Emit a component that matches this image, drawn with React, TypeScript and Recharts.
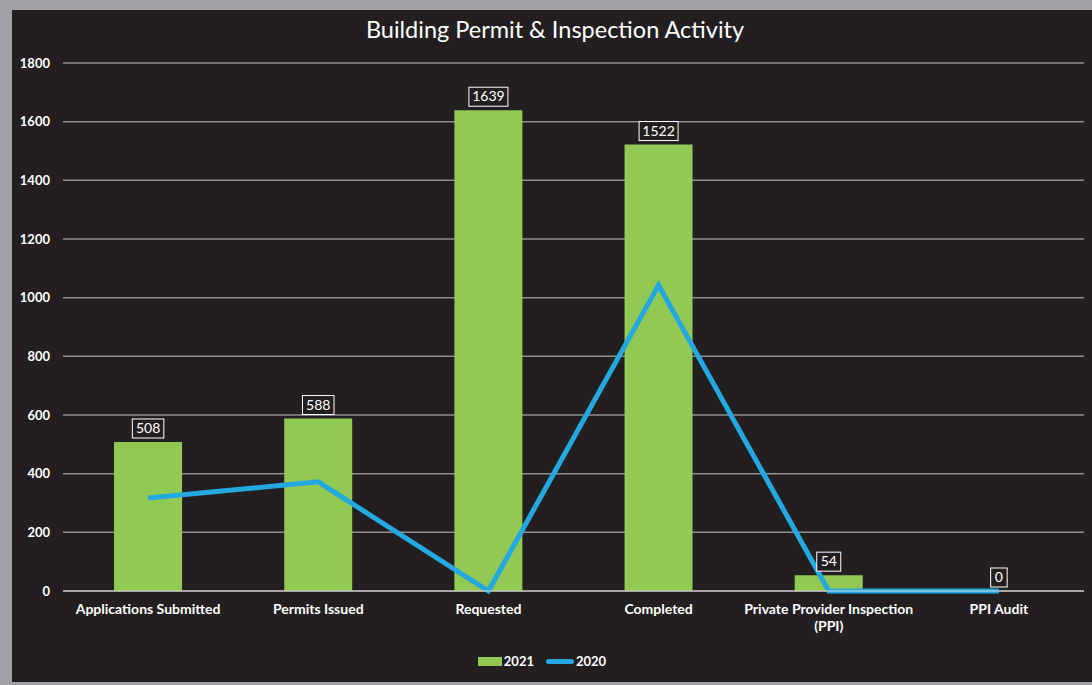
import React from "react";
import { ComposedChart, Bar, Line, XAxis, YAxis, CartesianGrid, Legend, LabelList } from "recharts";

const categories = [
  "Applications Submitted",
  "Permits Issued",
  "Requested",
  "Completed",
  "Private Provider Inspection (PPI)",
  "PPI Audit",
];
const values2021 = [508, 588, 1639, 1522, 54, 0];
const values2020 = [317, 372, 0, 1043, 0, 0];
const yTicks = [0, 200, 400, 600, 800, 1000, 1200, 1400, 1600, 1800];

const data = categories.map((c, i) => ({ name: c, y2021: values2021[i], y2020: values2020[i] }));

const FONT = "Lato, 'Open Sans', sans-serif";
const GREEN = "#92c955";
const BLUE = "#23a8e0";

const XTick = (props: any) => {
  const { x, y, payload } = props;
  const label: string = payload.value;
  const idx = label.indexOf(" (");
  const lines = idx > 0 ? [label.slice(0, idx), label.slice(idx + 1)] : [label];
  return (
    <text x={x} y={y} textAnchor="middle" fill="#ffffff" fontFamily={FONT} fontWeight={700} fontSize={14}>
      {lines.map((l, i) => (
        <tspan key={i} x={x} dy={i === 0 ? 15 : 17}>
          {l}
        </tspan>
      ))}
    </text>
  );
};

const BoxLabel = (props: any) => {
  const { x, y, value } = props;
  const s = String(value);
  const w = s.length * 7.5 + 9;
  const h = 19;
  const cx = x;
  const bottom = y - 4;
  return (
    <g>
      <rect x={cx - w / 2} y={bottom - h} width={w} height={h} fill="#231f20" stroke="#ffffff" strokeWidth={1} />
      <text x={cx} y={bottom - 5} textAnchor="middle" fill="#ffffff" fontFamily={FONT} fontSize={14}>
        {s}
      </text>
    </g>
  );
};

const LegendContent = () => (
  <div style={{ display: "flex", justifyContent: "center", alignItems: "center", fontFamily: FONT, fontWeight: 700, fontSize: 13, color: "#fff", height: 16 }}>
    <span style={{ display: "inline-block", width: 24, height: 9, background: GREEN, marginRight: 2 }} />
    <span style={{ marginRight: 12 }}>2021</span>
    <span style={{ display: "inline-block", width: 28, height: 5, background: BLUE, borderRadius: 3, marginRight: 2 }} />
    <span>2020</span>
  </div>
);

export default function App() {
  return (
    <div style={{ position: "absolute", left: 0, top: 0, width: 1092, height: 685, background: "#a0a1a5", overflow: "hidden" }}>
      <div style={{ position: "absolute", left: 12, top: 10, width: 1080, height: 672, background: "#231f20" }} />
      <div
        style={{
          position: "absolute",
          left: 12,
          top: 15,
          width: 1086,
          textAlign: "center",
          color: "#fff",
          fontFamily: FONT,
          fontSize: 23.5,
        }}
      >
        Building Permit &amp; Inspection Activity
      </div>
      <div style={{ position: "absolute", left: 0, top: 0 }}>
        <ComposedChart
          width={1092}
          height={685}
          data={data}
          margin={{ top: 63, right: 8, bottom: 28, left: 0 }}
          barCategoryGap="30%"
        >
          <CartesianGrid vertical={false} stroke="#8f8f8f" strokeWidth={1.5} />
          <XAxis
            dataKey="name"
            axisLine={{ stroke: "#d9d9d9", strokeWidth: 1 }}
            tickLine={false}
            tick={<XTick />}
            interval={0}
            height={50}
          />
          <YAxis
            domain={[0, 1800]}
            ticks={yTicks}
            width={63}
            axisLine={false}
            tickLine={false}
            tickMargin={7}
            tick={{ fill: "#ffffff", fontFamily: FONT, fontWeight: 700, fontSize: 13 }}
          />
          <Legend verticalAlign="bottom" content={<LegendContent />} wrapperStyle={{ bottom: 16 }} />
          <Bar dataKey="y2021" name="2021" fill={GREEN} isAnimationActive={false} />
          <Line
            dataKey="y2020"
            name="2020"
            stroke={BLUE}
            strokeWidth={5}
            dot={false}
            activeDot={false}
            type="linear"
            isAnimationActive={false}
          />
          <Line
            dataKey="y2021"
            name="labels2021"
            stroke="none"
            dot={false}
            activeDot={false}
            legendType="none"
            isAnimationActive={false}
          >
            <LabelList dataKey="y2021" content={<BoxLabel />} />
          </Line>
        </ComposedChart>
      </div>
    </div>
  );
}
